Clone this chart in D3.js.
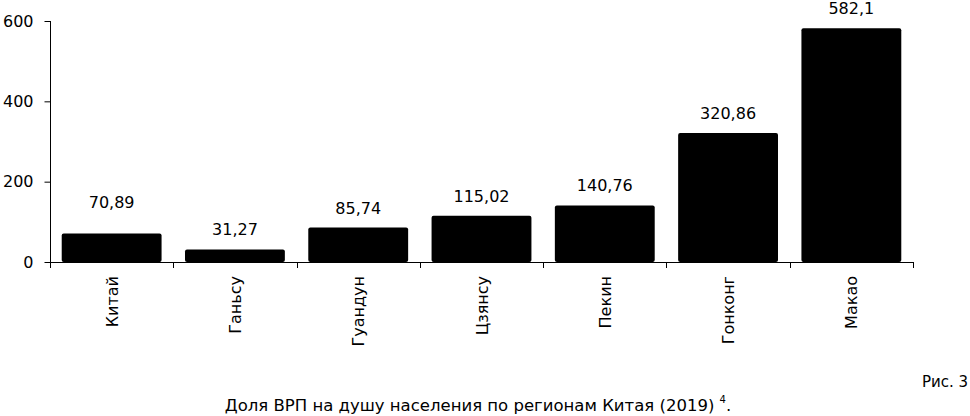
<!DOCTYPE html>
<html>
<head>
<meta charset="utf-8">
<script src="https://cdn.jsdelivr.net/npm/d3@7"></script>
<style>
  html, body { margin: 0; padding: 0; background: #fff; }
  svg { display: block; font-family: "DejaVu Sans", Verdana, sans-serif; }
</style>
</head>
<body>
<svg id="chart" width="970" height="416"></svg>
<script>
  // Regions and GDP-per-capita share values
  const regions = ['Китай', 'Ганьсу', 'Гуандун', 'Цзянсу', 'Пекин', 'Гонконг', 'Макао'];
  const values = [70.89, 31.27, 85.74, 115.02, 140.76, 320.86, 582.1];
  const valueLabels = ['70,89', '31,27', '85,74', '115,02', '140,76', '320,86', '582,1'];
  const yTicks = [0, 200, 400, 600];

  (() => {
    const svg = d3.select('#chart');
    const left = 50, right = 913, plotTop = 21, bottom = 262;

    const x = d3.scaleBand().domain(regions).range([left, right]).paddingInner(0.19).paddingOuter(0.095);
    const y = d3.scaleLinear().domain([0, 600]).range([bottom, plotTop]);

    // bars
    svg.append('g').selectAll('rect')
      .data(regions)
      .join('rect')
      .attr('x', d => x(d))
      .attr('y', (d, i) => y(values[i]))
      .attr('width', x.bandwidth())
      .attr('height', (d, i) => y(0) - y(values[i]))
      .attr('rx', 2)
      .attr('fill', '#000');

    // value labels (the first one sits higher in the original)
    svg.append('g').selectAll('text')
      .data(regions)
      .join('text')
      .attr('x', d => x(d) + x.bandwidth() / 2)
      .attr('y', (d, i) => y(values[i]) - (i === 0 ? 26 : 14))
      .attr('text-anchor', 'middle')
      .attr('font-size', 16)
      .text((d, i) => valueLabels[i]);

    // y axis
    const yAxis = svg.append('g')
      .attr('transform', `translate(${left + 0.5},0)`)
      .call(d3.axisLeft(y).tickValues(yTicks).tickSize(6).tickPadding(11).tickFormat(d3.format('d')));
    yAxis.select('.domain').attr('d', `M0,${plotTop}V${bottom + 6}`);
    yAxis.selectAll('text').attr('font-size', 16).attr('fill', '#000');
    yAxis.attr('font-family', null);

    // x axis: line plus ticks at band boundaries
    const step = x.step();
    const bounds = d3.range(regions.length + 1).map(i => left + i * step);
    svg.append('line')
      .attr('x1', left).attr('x2', right)
      .attr('y1', bottom + 0.5).attr('y2', bottom + 0.5)
      .attr('stroke', '#000');
    svg.append('g').selectAll('line')
      .data(bounds.slice(1))
      .join('line')
      .attr('x1', d => Math.round(d) + 0.5).attr('x2', d => Math.round(d) + 0.5)
      .attr('y1', bottom).attr('y2', bottom + 6)
      .attr('stroke', '#000');

    // category labels, rotated
    svg.append('g').selectAll('text')
      .data(regions)
      .join('text')
      .attr('transform', d => `translate(${x(d) + x.bandwidth() / 2 + 6},${bottom + 14}) rotate(-90)`)
      .attr('text-anchor', 'end')
      .attr('font-size', 16)
      .text(d => d);

    // figure caption
    svg.append('text')
      .attr('x', 968).attr('y', 387)
      .attr('text-anchor', 'end')
      .attr('font-size', 15)
      .text('Рис. 3');

    const title = svg.append('text')
      .attr('x', 478).attr('y', 411)
      .attr('text-anchor', 'middle')
      .attr('font-size', 16.5);
    title.append('tspan').text('Доля ВРП на душу населения по регионам Китая (2019) ');
    title.append('tspan').attr('font-size', 10).attr('dy', -8).text('4');
    title.append('tspan').attr('dy', 8).text('.');
  })();
</script>
</body>
</html>
